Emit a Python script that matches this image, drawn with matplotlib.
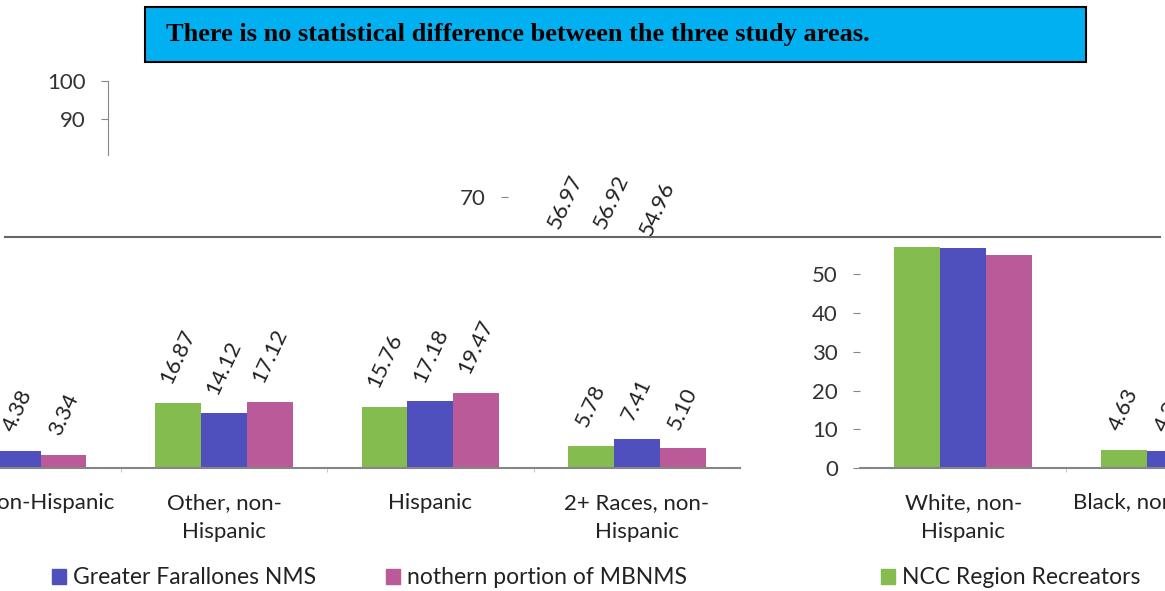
import matplotlib.pyplot as plt
import matplotlib.transforms as mtransforms
from matplotlib.patches import Patch, Rectangle
from matplotlib.lines import Line2D

W, H = 1165, 591

categories = ["White, non-\nHispanic", "Black, non-Hispanic", "Other, non-\nHispanic",
              "Hispanic", "2+ Races, non-\nHispanic"]
series = ["NCC Region Recreators", "Greater Farallones NMS", "nothern portion of MBNMS"]
ncc = [56.97, 4.63, 16.87, 15.76, 5.78]
gfnms = [56.92, 4.38, 14.12, 17.18, 7.41]
mbnms = [54.96, 3.34, 17.12, 19.47, 5.10]
colors = ["#84BC4F", "#4F4FBE", "#BA5A98"]
title = "There is no statistical difference between the three study areas."

plt.rcParams['font.family'] = ['Lato', 'DejaVu Sans']
TXT = '#222222'
GRAY = '#868686'

fig = plt.figure(figsize=(W / 100, H / 100), dpi=100)

# plot area of the untorn chart, in pixels
X0, X1, Y0, PPU = 108, 1140, 468, 3.873
BW = 0.2222


def strip(shift, top, bot, yticks, spine=False, base=False):
    # the screenshot is torn: every horizontal strip shows the same chart,
    # moved sideways by its own amount
    ax = fig.add_axes([(X0 + shift) / W, 1 - bot / H, (X1 - X0) / W, (bot - top) / H])
    ax.set_xlim(-0.5, len(categories) - 0.5)
    ax.set_ylim((Y0 - bot) / PPU, (Y0 - top) / PPU)
    ax.patch.set_visible(False)
    ax.spines['top'].set_visible(False)
    ax.spines['right'].set_visible(False)
    ax.spines['left'].set_visible(spine)
    ax.spines['left'].set_color(GRAY)
    ax.spines['bottom'].set_visible(base)
    ax.spines['bottom'].set_color(GRAY)
    ax.spines['bottom'].set_linewidth(1.5)

    ax.set_yticks(yticks)
    ax.tick_params(axis='y', length=5, color=GRAY, pad=11, labelsize=16, labelcolor='#333333')

    if base:
        ax.set_xticks(range(len(categories)), categories, linespacing=1.55)
        ax.set_xticks([i + 0.5 for i in range(len(categories) - 1)], minor=True)
        ax.tick_params(axis='x', which='major', length=0, pad=18, labelsize=16, labelcolor=TXT)
        ax.tick_params(axis='x', which='minor', length=3, color='#bbbbbb')
    else:
        ax.set_xticks([])

    lab_tr = mtransforms.offset_copy(ax.transData, fig=fig, y=16, units='dots')
    for j, vals in enumerate([ncc, gfnms, mbnms]):
        xs = [i + (j - 1) * BW for i in range(len(categories))]
        ax.bar(xs, vals, width=BW, color=colors[j], linewidth=0)
        for x, v in zip(xs, vals):
            ax.text(x, v, f"{v:.2f}", transform=lab_tr, rotation=65,
                    ha='center', va='bottom', fontsize=16, color=TXT, clip_on=True)
    return ax


strip(0, 80.7, 155, [90, 100], spine=True)
strip(400, 155, 237, [70])
strip(752, 237, Y0, [0, 10, 20, 30, 40, 50], base=True)
strip(-400, 237, Y0, [0, 10, 20, 30, 40, 50], base=True)

# tear line
fig.add_artist(Line2D([5 / W, 1160 / W], [1 - 237 / H] * 2, color='#666666', lw=1.5))

# title box
fig.add_artist(Rectangle((145 / W, 1 - 62 / H), (1086 - 145) / W, (62 - 7) / H,
                         transform=fig.transFigure, facecolor='#00B0F0',
                         edgecolor='black', lw=1.5))
fig.text(166 / W, 1 - 35 / H, title, family='Liberation Serif', weight='bold',
         fontsize=19, va='center', ha='left', color='black')

# legend pieces, torn apart like the rest
for k, x in zip([1, 2, 0], [52, 386, 881]):
    fig.legend(handles=[Patch(color=colors[k])], labels=[series[k]], loc='center left',
               bbox_to_anchor=(x / W, 1 - 578 / H), frameon=False, borderpad=0,
               borderaxespad=0, handlelength=0.62, handleheight=0.62,
               handletextpad=0.3, fontsize=16.5, labelcolor=TXT)

fig.savefig("out.png", dpi=100)
